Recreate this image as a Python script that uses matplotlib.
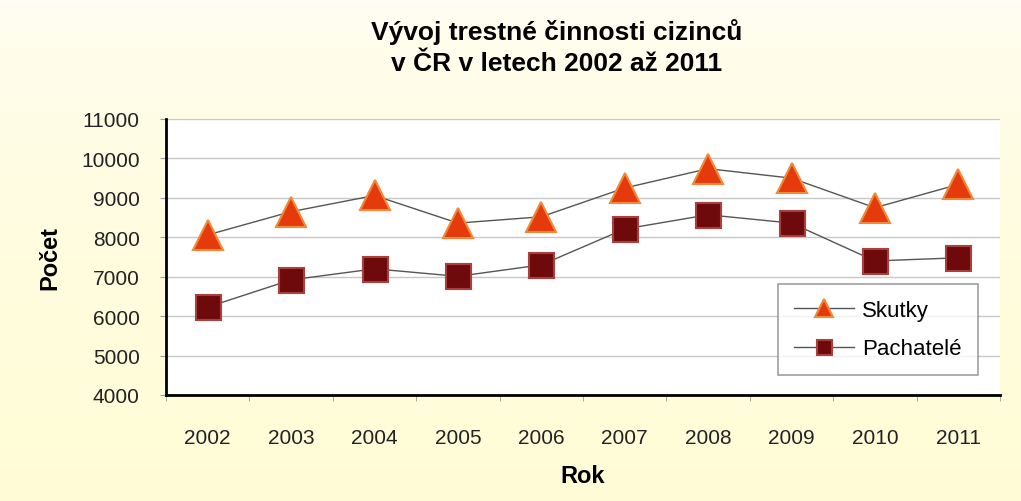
import matplotlib
matplotlib.use("Agg")
import matplotlib.pyplot as plt
import numpy as np

plt.rcParams["font.family"] = ["Liberation Sans", "DejaVu Sans"]

years = ["2002", "2003", "2004", "2005", "2006", "2007", "2008", "2009", "2010", "2011"]
skutky = [8060, 8650, 9060, 8360, 8520, 9250, 9740, 9500, 8750, 9340]
pachatele = [6230, 6920, 7200, 7010, 7300, 8210, 8570, 8360, 7400, 7480]
y_ticks = [4000, 5000, 6000, 7000, 8000, 9000, 10000, 11000]

fig = plt.figure(figsize=(10.21, 5.02), dpi=100)

# light yellow background, whiter towards the top
bg = fig.add_axes([0, 0, 1, 1], zorder=-10)
grad = np.linspace(0, 1, 256).reshape(-1, 1)
top = np.array([1.0, 0.995, 0.965])
bot = np.array([1.0, 0.988, 0.84])
img = top + (bot - top) * grad[:, :, None] ** 0.5
bg.imshow(img, aspect="auto", extent=[0, 1, 0, 1], origin="upper")
bg.axis("off")

ax = fig.add_axes([166 / 1021, 1 - 396 / 502, (1000 - 166) / 1021, (396 - 120) / 502])
ax.set_facecolor("white")

x = np.arange(len(years))
ax.plot(x, skutky, color="#555555", lw=1.0, marker="^", markersize=21,
        markerfacecolor="#e53b0c", markeredgecolor="#f08a3a", markeredgewidth=1.5,
        label="Skutky", zorder=3)
ax.plot(x, pachatele, color="#555555", lw=1.0, marker="s", markersize=18,
        markerfacecolor="#6e0a0c", markeredgecolor="#a8403e", markeredgewidth=1.5,
        label="Pachatelé", zorder=3)

ax.set_xlim(-0.5, len(years) - 0.5)
ax.set_ylim(4000, 11000)
ax.set_yticks(y_ticks)
ax.set_yticklabels([str(v) for v in y_ticks], fontsize=15, color="#222222")
ax.set_xticks(x)
ax.set_xticklabels(years, fontsize=15, color="#222222")
ax.set_xticks(np.arange(-0.5, len(years), 1), minor=True)
ax.tick_params(axis="x", which="major", length=0, pad=24)
ax.tick_params(axis="x", which="minor", length=4, color="#999999")
ax.tick_params(axis="y", length=4, color="#999999", pad=15)
ax.grid(axis="y", color="#c8c8c8", lw=1.0)
ax.set_axisbelow(True)

for s in ["top", "right"]:
    ax.spines[s].set_visible(False)
for s in ["left", "bottom"]:
    ax.spines[s].set_linewidth(2)
    ax.spines[s].set_color("black")

ax.set_xlabel("Rok", fontsize=17, fontweight="bold", labelpad=12)
ax.set_ylabel("Počet", fontsize=17, fontweight="bold", labelpad=14)

leg = ax.legend(loc="upper left", bbox_to_anchor=((778 - 166) / 834, (396 - 285) / 276),
                borderaxespad=0, fontsize=16, frameon=True, fancybox=False,
                borderpad=0.7, labelspacing=0.8, handlelength=2.7,
                handletextpad=0.4, markerscale=0.6)
leg.get_frame().set_edgecolor("#888888")
leg.get_frame().set_linewidth(1.2)

fig.text(0.545, 0.936, "Vývoj trestné činnosti cizinců", ha="center", va="center",
         fontsize=19, fontweight="bold")
fig.text(0.545, 0.872, "v ČR v letech 2002 až 2011", ha="center", va="center",
         fontsize=19, fontweight="bold")

fig.savefig("out.png", dpi=100)
